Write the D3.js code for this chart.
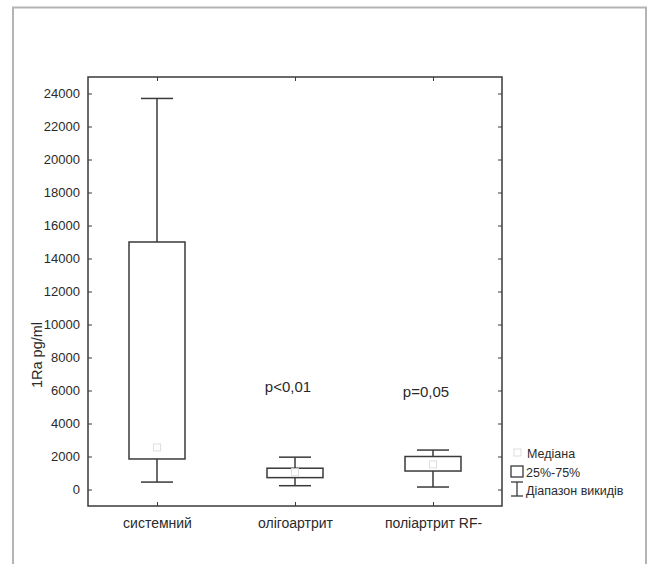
<!DOCTYPE html>
<html>
<head>
<meta charset="utf-8">
<script src="https://cdn.jsdelivr.net/npm/d3@7"></script>
<style>
  body { margin: 0; background: #fff; }
  svg { font-family: "Liberation Sans", Arial, sans-serif; }
</style>
</head>
<body>
<div id="chart"></div>
<script>
// data
const categories = ["системний", "олігоартрит", "поліартрит RF-"];
const whiskerLow = [450, 230, 150];
const q1 = [1850, 720, 1120];
const median = [2550, 1050, 1520];
const q3 = [15000, 1290, 2000];
const whiskerHigh = [23700, 1960, 2390];
const pLabels = ["", "p<0,01", "p=0,05"];
const pLabelY = [0, 5900, 5600];
const yTicks = d3.range(0, 24001, 2000);
const legendItems = ["Медіана", "25%-75%", "Діапазон викидів"];

const W = 650, H = 564;
const margin = { top: 77, right: 148, bottom: 58, left: 88 };
const lineCol = "#3a3a3a";
const textCol = "#2a2a2a";

const svg = d3.select("#chart").append("svg")
  .attr("width", W)
  .attr("height", H);

// outer frame
svg.append("rect")
  .attr("x", 13).attr("y", 7.5)
  .attr("width", 633).attr("height", 580)
  .attr("fill", "none").attr("stroke", "#b4b4b4").attr("stroke-width", 2);

const x = d3.scalePoint().domain(categories).range([margin.left, W - margin.right]).padding(0.5);
const y = d3.scaleLinear().domain([-1000, 25000]).range([H - margin.bottom, margin.top]);

const g = svg.append("g");

// axes, ticks inward
g.append("g")
  .attr("transform", `translate(${margin.left},0)`)
  .call(d3.axisLeft(y).tickValues(yTicks).tickFormat(d3.format("d")).tickSizeInner(-4).tickSizeOuter(0).tickPadding(8))
  .call(a => a.select(".domain").remove())
  .call(a => a.selectAll("line").attr("stroke", lineCol))
  .call(a => a.selectAll("text").attr("font-size", 13).attr("fill", textCol));

g.append("g")
  .attr("transform", `translate(${W - margin.right},0)`)
  .call(d3.axisRight(y).tickValues(yTicks).tickSizeInner(-4).tickSizeOuter(0).tickFormat(""))
  .call(a => a.select(".domain").remove())
  .call(a => a.selectAll("line").attr("stroke", lineCol));

g.append("g")
  .attr("transform", `translate(0,${H - margin.bottom})`)
  .call(d3.axisBottom(x).tickSizeInner(-4).tickSizeOuter(0).tickPadding(12))
  .call(a => a.select(".domain").remove())
  .call(a => a.selectAll("line").attr("stroke", lineCol))
  .call(a => a.selectAll("text").attr("font-size", 14).attr("fill", textCol));

g.append("g")
  .attr("transform", `translate(0,${margin.top})`)
  .call(d3.axisTop(x).tickSizeInner(-4).tickSizeOuter(0).tickFormat(""))
  .call(a => a.select(".domain").remove())
  .call(a => a.selectAll("line").attr("stroke", lineCol));

// plot frame
g.append("rect")
  .attr("x", margin.left).attr("y", margin.top)
  .attr("width", W - margin.left - margin.right)
  .attr("height", H - margin.top - margin.bottom)
  .attr("fill", "none").attr("stroke", lineCol).attr("stroke-width", 1.5);

// y title
svg.append("text")
  .attr("transform", `translate(42,355) rotate(-90)`)
  .attr("text-anchor", "middle")
  .attr("font-size", 14.5).attr("fill", textCol)
  .text("1Ra pg/ml");

// boxes
const boxW = 56, capW = 32;
const boxes = g.append("g").selectAll("g")
  .data(categories)
  .join("g");

boxes.append("line")
  .attr("x1", d => x(d)).attr("x2", d => x(d))
  .attr("y1", (d, i) => y(whiskerHigh[i])).attr("y2", (d, i) => y(q3[i]))
  .attr("stroke", lineCol).attr("stroke-width", 1.5);
boxes.append("line")
  .attr("x1", d => x(d)).attr("x2", d => x(d))
  .attr("y1", (d, i) => y(q1[i])).attr("y2", (d, i) => y(whiskerLow[i]))
  .attr("stroke", lineCol).attr("stroke-width", 1.5);
boxes.append("line")
  .attr("x1", d => x(d) - capW / 2).attr("x2", d => x(d) + capW / 2)
  .attr("y1", (d, i) => y(whiskerHigh[i])).attr("y2", (d, i) => y(whiskerHigh[i]))
  .attr("stroke", lineCol).attr("stroke-width", 1.5);
boxes.append("line")
  .attr("x1", d => x(d) - capW / 2).attr("x2", d => x(d) + capW / 2)
  .attr("y1", (d, i) => y(whiskerLow[i])).attr("y2", (d, i) => y(whiskerLow[i]))
  .attr("stroke", lineCol).attr("stroke-width", 1.5);
boxes.append("rect")
  .attr("x", d => x(d) - boxW / 2)
  .attr("y", (d, i) => y(q3[i]))
  .attr("width", boxW)
  .attr("height", (d, i) => y(q1[i]) - y(q3[i]))
  .attr("fill", "#fff").attr("stroke", lineCol).attr("stroke-width", 1.5);
boxes.append("rect")
  .attr("x", d => x(d) - 3.5)
  .attr("y", (d, i) => y(median[i]) - 3.5)
  .attr("width", 7).attr("height", 7)
  .attr("fill", "none").attr("stroke", "#dedede").attr("stroke-width", 1);

// p labels
g.append("g").selectAll("text")
  .data(categories)
  .join("text")
  .attr("x", d => x(d) - 7)
  .attr("y", (d, i) => y(pLabelY[i]))
  .attr("text-anchor", "middle")
  .attr("font-size", 15).attr("fill", textCol)
  .text((d, i) => pLabels[i]);

// legend
const lg = svg.append("g").attr("transform", "translate(511,447)");
lg.append("rect").attr("x", 3).attr("y", 2).attr("width", 7).attr("height", 7)
  .attr("fill", "none").attr("stroke", "#dedede");
lg.append("rect").attr("x", 0).attr("y", 19).attr("width", 12).attr("height", 11)
  .attr("fill", "none").attr("stroke", lineCol).attr("stroke-width", 1.3);
lg.append("line").attr("x1", 6).attr("x2", 6).attr("y1", 35).attr("y2", 49)
  .attr("stroke", lineCol).attr("stroke-width", 1.3);
lg.append("line").attr("x1", 0).attr("x2", 12).attr("y1", 35).attr("y2", 35)
  .attr("stroke", lineCol).attr("stroke-width", 1.3);
lg.append("line").attr("x1", 0).attr("x2", 12).attr("y1", 49).attr("y2", 49)
  .attr("stroke", lineCol).attr("stroke-width", 1.3);
lg.selectAll("text.leg")
  .data(legendItems)
  .join("text")
  .attr("class", "leg")
  .attr("x", (d, i) => i === 0 ? 16 : 15)
  .attr("y", (d, i) => 11 + i * 18.5)
  .attr("font-size", 12.5).attr("fill", textCol)
  .text(d => d);
</script>
</body>
</html>
